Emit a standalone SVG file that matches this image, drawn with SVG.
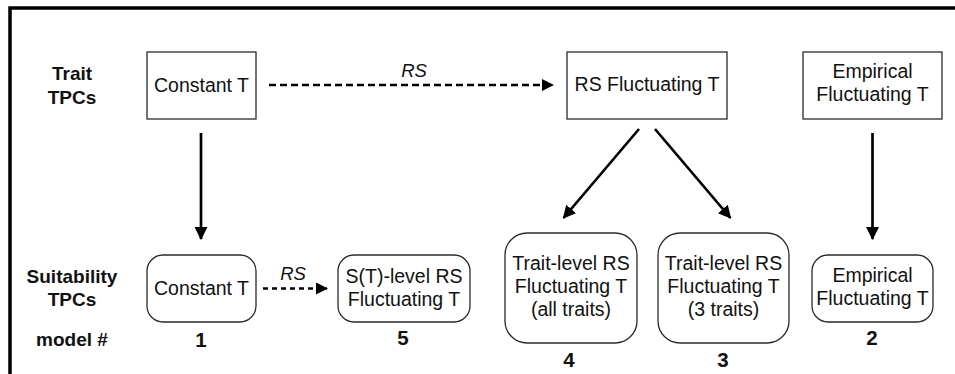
<svg xmlns="http://www.w3.org/2000/svg" width="955" height="374" viewBox="0 0 955 374">
  <defs>
    <marker id="head" viewBox="0 0 12 12" refX="11" refY="6" markerWidth="13" markerHeight="13" markerUnits="userSpaceOnUse" orient="auto">
      <path d="M0,0 L12,6 L0,12 Z" fill="#000"/>
    </marker>
    <marker id="headS" viewBox="0 0 12 12" refX="11" refY="6" markerWidth="12" markerHeight="12" markerUnits="userSpaceOnUse" orient="auto">
      <path d="M0,0 L12,6 L0,12 Z" fill="#000"/>
    </marker>
  </defs>
  <style>
    .box { fill: #fff; stroke: #2a2a2a; stroke-width: 1.3; }
    .t { font-family: "Liberation Sans", Arial, sans-serif; font-size: 19.5px; fill: #111; text-anchor: middle; }
    .b { font-family: "Liberation Sans", Arial, sans-serif; font-size: 19px; font-weight: bold; fill: #111; text-anchor: middle; }
    .n { font-family: "Liberation Sans", Arial, sans-serif; font-size: 20.5px; font-weight: bold; fill: #111; text-anchor: middle; }
    .i { font-family: "Liberation Sans", Arial, sans-serif; font-size: 18.5px; font-style: italic; fill: #111; text-anchor: middle; }
    .solid { fill: none; stroke: #000; stroke-width: 2.7; marker-end: url(#head); }
    .dash { fill: none; stroke: #000; stroke-width: 2.5; stroke-dasharray: 7 4; marker-end: url(#headS); }
  </style>

  <rect width="955" height="374" fill="#fff"/>
  <!-- frame (top and left edges) -->
  <path d="M10,374 V8 H955" fill="none" stroke="#000" stroke-width="3.5"/>

  <!-- row labels -->
  <g id="labels">
    <text class="b" x="72" y="80">Trait</text>
    <text class="b" x="72" y="104">TPCs</text>
    <text class="b" x="72" y="283">Suitability</text>
    <text class="b" x="72" y="306">TPCs</text>
    <text class="b" x="72" y="346">model #</text>
  </g>

  <!-- trait-level nodes -->
  <g id="trait-constant">
    <rect class="box" x="147" y="52" width="109" height="67"/>
    <text class="t" x="201.5" y="92">Constant T</text>
  </g>
  <g id="trait-rs">
    <rect class="box" x="567" y="52" width="160" height="67"/>
    <text class="t" x="647" y="91">RS Fluctuating T</text>
  </g>
  <g id="trait-empirical">
    <rect class="box" x="803" y="52" width="139" height="67"/>
    <text class="t" x="872.5" y="78">Empirical</text>
    <text class="t" x="872.5" y="101">Fluctuating T</text>
  </g>

  <!-- suitability-level nodes -->
  <g id="suit-constant">
    <rect class="box" x="147" y="255" width="109" height="67" rx="16"/>
    <text class="t" x="201.5" y="295">Constant T</text>
    <text class="n" x="201" y="347">1</text>
  </g>
  <g id="suit-st-rs">
    <rect class="box" x="338" y="255" width="132" height="67" rx="16"/>
    <text class="t" x="404" y="283">S(T)-level RS</text>
    <text class="t" x="404" y="306">Fluctuating T</text>
    <text class="n" x="403" y="345">5</text>
  </g>
  <g id="suit-trait-all">
    <rect class="box" x="505" y="233" width="132" height="110" rx="22"/>
    <text class="t" x="571" y="270">Trait-level RS</text>
    <text class="t" x="571" y="293">Fluctuating T</text>
    <text class="t" x="571" y="316">(all traits)</text>
    <text class="n" x="569" y="367">4</text>
  </g>
  <g id="suit-trait-3">
    <rect class="box" x="658" y="233" width="131" height="110" rx="22"/>
    <text class="t" x="723.5" y="270">Trait-level RS</text>
    <text class="t" x="723.5" y="293">Fluctuating T</text>
    <text class="t" x="723.5" y="316">(3 traits)</text>
    <text class="n" x="723" y="367">3</text>
  </g>
  <g id="suit-empirical">
    <rect class="box" x="812" y="255" width="121" height="67" rx="16"/>
    <text class="t" x="872.5" y="282">Empirical</text>
    <text class="t" x="872.5" y="305">Fluctuating T</text>
    <text class="n" x="872" y="345">2</text>
  </g>

  <!-- connectors -->
  <g id="connectors">
    <path class="dash" d="M269,85 H553"/>
    <text class="i" x="414" y="77">RS</text>
    <path class="solid" d="M201,133 V239"/>
    <path class="solid" d="M639,129 L563.5,218"/>
    <path class="solid" d="M655,129 L730.5,218"/>
    <path class="solid" d="M872.5,133 V239"/>
    <path class="dash" style="stroke-dasharray: 5 4;" d="M263,288.5 H327"/>
    <text class="i" x="293" y="280">RS</text>
  </g>
</svg>
